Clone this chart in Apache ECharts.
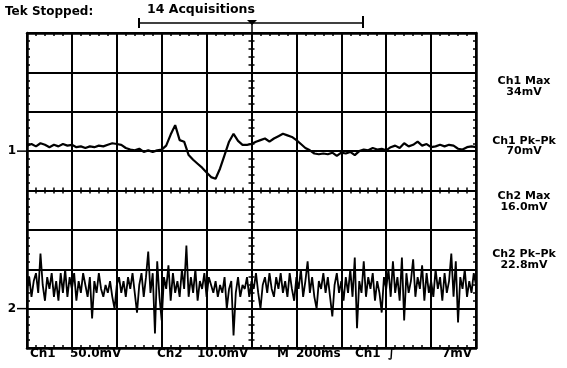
<!DOCTYPE html>
<html><head><meta charset="utf-8">
<script src="https://cdn.jsdelivr.net/npm/echarts@6/dist/echarts.min.js"></script>
<style>html,body{margin:0;padding:0;background:#fff}#c{width:567px;height:368px}</style>
</head><body><div id="c"></div>
<script>
// ---- data ----
const timePerDivMs = 200;
const triggerMs = 1000;          // trigger at screen centre
const ch1StepMs = 20;
const ch1mV = [7,9,6,10,8,5,8,6,9,7,8,5,6,4,6,5,7,6,8,10,9,8,4,2,1,3,-1,1,-1,1,2,7,21,33,14,12,-5,-11,-16,-21,-27,-33,-35,-22,-5,12,22,13,8,8,9,12,14,16,12,16,19,22,20,18,14,9,4,1,-3,-4,-3,-4,-2,-6,-2,-3,-1,-5,0,2,1,4,2,3,1,5,7,4,10,6,8,12,7,9,5,6,8,6,8,7,3,2,5,6,5];
const ch2StepMs = 10;
const ch2mV = [5,8,3,7,9,4,14,6,2,8,5,9,3,7,2,9,4,10,3,8,5,9,2,7,4,9,6,3,8,-2.5,7,4,9,5,3,6,4,7,3,0,6,8,4,7,3,8,5,9,4,-1,6,9,3,8,14.5,4,9,-6.3,12,3,-3,8,5,11,2,9,4,7,3,10,5,16,3,8,4,10,2,7,5,9,3,8,6,4,7,3,6,4,8,0,5,7,-6.8,4,8,3,6,5,8,3,7,5,9,4,0,6,8,4,9,5,3,8,5,9,4,7,3,9,5,2,8,5,10,3,7,12,4,8,3,0,7,5,9,4,8,3,-2,6,9,4,7,2,8,4,10,3,13,-5,7,4,12,3,8,5,9,2,7,4,-1,8,5,10,3,12,4,8,2,13,-3,9,4,7,12.5,3,8,5,11,2,9,4,7,3,10,5,8,2,9,4,7,14,3,12,-3.5,8,5,10,3,7,4,9,6];
const ch1mVPerDiv = 50, ch2mVPerDiv = 10;
const ch1GroundDiv = 1, ch2GroundDiv = -3;
const readoutTitles = ["Ch1 Max","Ch1 Pk\u2013Pk","Ch2 Max","Ch2 Pk\u2013Pk"];
const readoutValues = ["34mV","70mV","16.0mV","22.8mV"];
const footerTexts = ["Ch1","50.0mV","Ch2","10.0mV","M","200ms","Ch1","\u222B","7mV"];

// ---- chart ----
const chart = echarts.init(document.getElementById('c'), null, {renderer:'canvas'});
const K = '#000';
const FONT = 'bold 11px "DejaVu Sans", sans-serif';
const FONT12 = 'bold 12px "DejaVu Sans", sans-serif';

function xAx(extra){
  return Object.assign({type:'value',min:-triggerMs,max:triggerMs,interval:timePerDivMs,
    axisLabel:{show:false},splitLine:{show:false},
    axisLine:{show:true,onZero:false,lineStyle:{color:K,width:2.5}},
    axisTick:{show:true,inside:true,length:4,lineStyle:{color:K,width:1.5}},
    minorTick:{show:true,splitNumber:5,length:3,lineStyle:{color:K,width:1.5}}},extra);
}
function yAx(extra){
  return Object.assign({type:'value',min:-4,max:4,interval:1,
    axisLabel:{show:false},splitLine:{show:false},
    axisLine:{show:true,onZero:false,lineStyle:{color:K,width:2.5}},
    axisTick:{show:true,inside:true,length:4,lineStyle:{color:K,width:1.5}},
    minorTick:{show:true,splitNumber:5,length:3,lineStyle:{color:K,width:1.5}}},extra);
}

const xAxes = [
  xAx({position:'bottom',splitLine:{show:true,lineStyle:{color:K,width:2}}}),
  xAx({position:'top'}),
  xAx({position:'bottom',axisLine:{show:true,onZero:true,onZeroAxisIndex:0,lineStyle:{color:K,width:2}},axisTick:{show:true,inside:true,length:3,lineStyle:{color:K,width:1.5}}}),
  xAx({position:'bottom',axisLine:{show:true,onZero:true,onZeroAxisIndex:0,lineStyle:{color:K,width:2}},axisTick:{show:true,inside:false,length:3,lineStyle:{color:K,width:1.5}}})
];
const yAxes = [
  yAx({position:'left',splitLine:{show:true,lineStyle:{color:K,width:2}}}),
  yAx({position:'right'}),
  yAx({position:'left',axisLine:{show:true,onZero:true,onZeroAxisIndex:0,lineStyle:{color:K,width:2}},axisTick:{show:true,inside:true,length:3,lineStyle:{color:K,width:1.5}}}),
  yAx({position:'left',axisLine:{show:true,onZero:true,onZeroAxisIndex:0,lineStyle:{color:K,width:2}},axisTick:{show:true,inside:false,length:3,lineStyle:{color:K,width:1.5}}})
];

const ch1Data = ch1mV.map((v,i)=>[i*ch1StepMs - triggerMs, ch1GroundDiv + v/ch1mVPerDiv]);
const ch2Data = ch2mV.map((v,i)=>[i*ch2StepMs - triggerMs, ch2GroundDiv + v/ch2mVPerDiv]);

const txt = (s,x,y,font,align)=>({type:'text',x:x,y:y,silent:true,z:10,
  style:{text:s,font:font||FONT,fill:K,textAlign:align||'left',textVerticalAlign:'middle'}});
const ln = (x1,y1,x2,y2,w)=>({type:'line',silent:true,z:10,shape:{x1,y1,x2,y2},style:{stroke:K,lineWidth:w||1.5}});

const readoutY = [[81,92],[141,151],[196,207],[254,265]];
const graphics = [
  txt('Tek Stopped:',5,12,'bold 12px "DejaVu Sans", sans-serif'),
  txt('14 Acquisitions',147,10,'bold 12.5px "DejaVu Sans", sans-serif'),
  ln(139,23,363,23,1.5), ln(139,18,139,28,2), ln(363,16,363,28,2),
  {type:'polygon',silent:true,z:10,shape:{points:[[247,20],[257,20],[252,25]]},style:{fill:K}},
  ln(252,20,252,33,1.5),
];
readoutTitles.forEach((t,i)=>{
  graphics.push(txt(t,524,readoutY[i][0],FONT,'center'));
  graphics.push(txt(readoutValues[i],524,readoutY[i][1],FONT,'center'));
});
const footX = [30,70,157,197,277,296,355,388,442];
footerTexts.forEach((t,i)=>graphics.push(txt(t,footX[i],354,FONT12)));

chart.setOption({
  animation:false,
  backgroundColor:'#fff',
  grid:{left:27,right:91,top:33,bottom:20,containLabel:false},
  xAxis:xAxes, yAxis:yAxes,
  series:[
    {type:'line',data:ch1Data,showSymbol:false,lineStyle:{color:K,width:2.2},xAxisIndex:0,yAxisIndex:0,z:5},
    {type:'line',data:ch2Data,showSymbol:false,lineStyle:{color:K,width:1.8},xAxisIndex:0,yAxisIndex:0,z:5}
  ],
  graphic:graphics
});
// channel ground markers, placed through the axis scale
const g1 = chart.convertToPixel({yAxisIndex:0}, ch1GroundDiv);
const g2 = chart.convertToPixel({yAxisIndex:0}, ch2GroundDiv);
chart.setOption({graphic:graphics.concat([
  txt('1',12,g1,FONT12,'center'), ln(17,g1,27,g1,1.5),
  txt('2',12,g2,FONT12,'center'), ln(17,g2,27,g2,1.5)
])});
</script></body></html>
